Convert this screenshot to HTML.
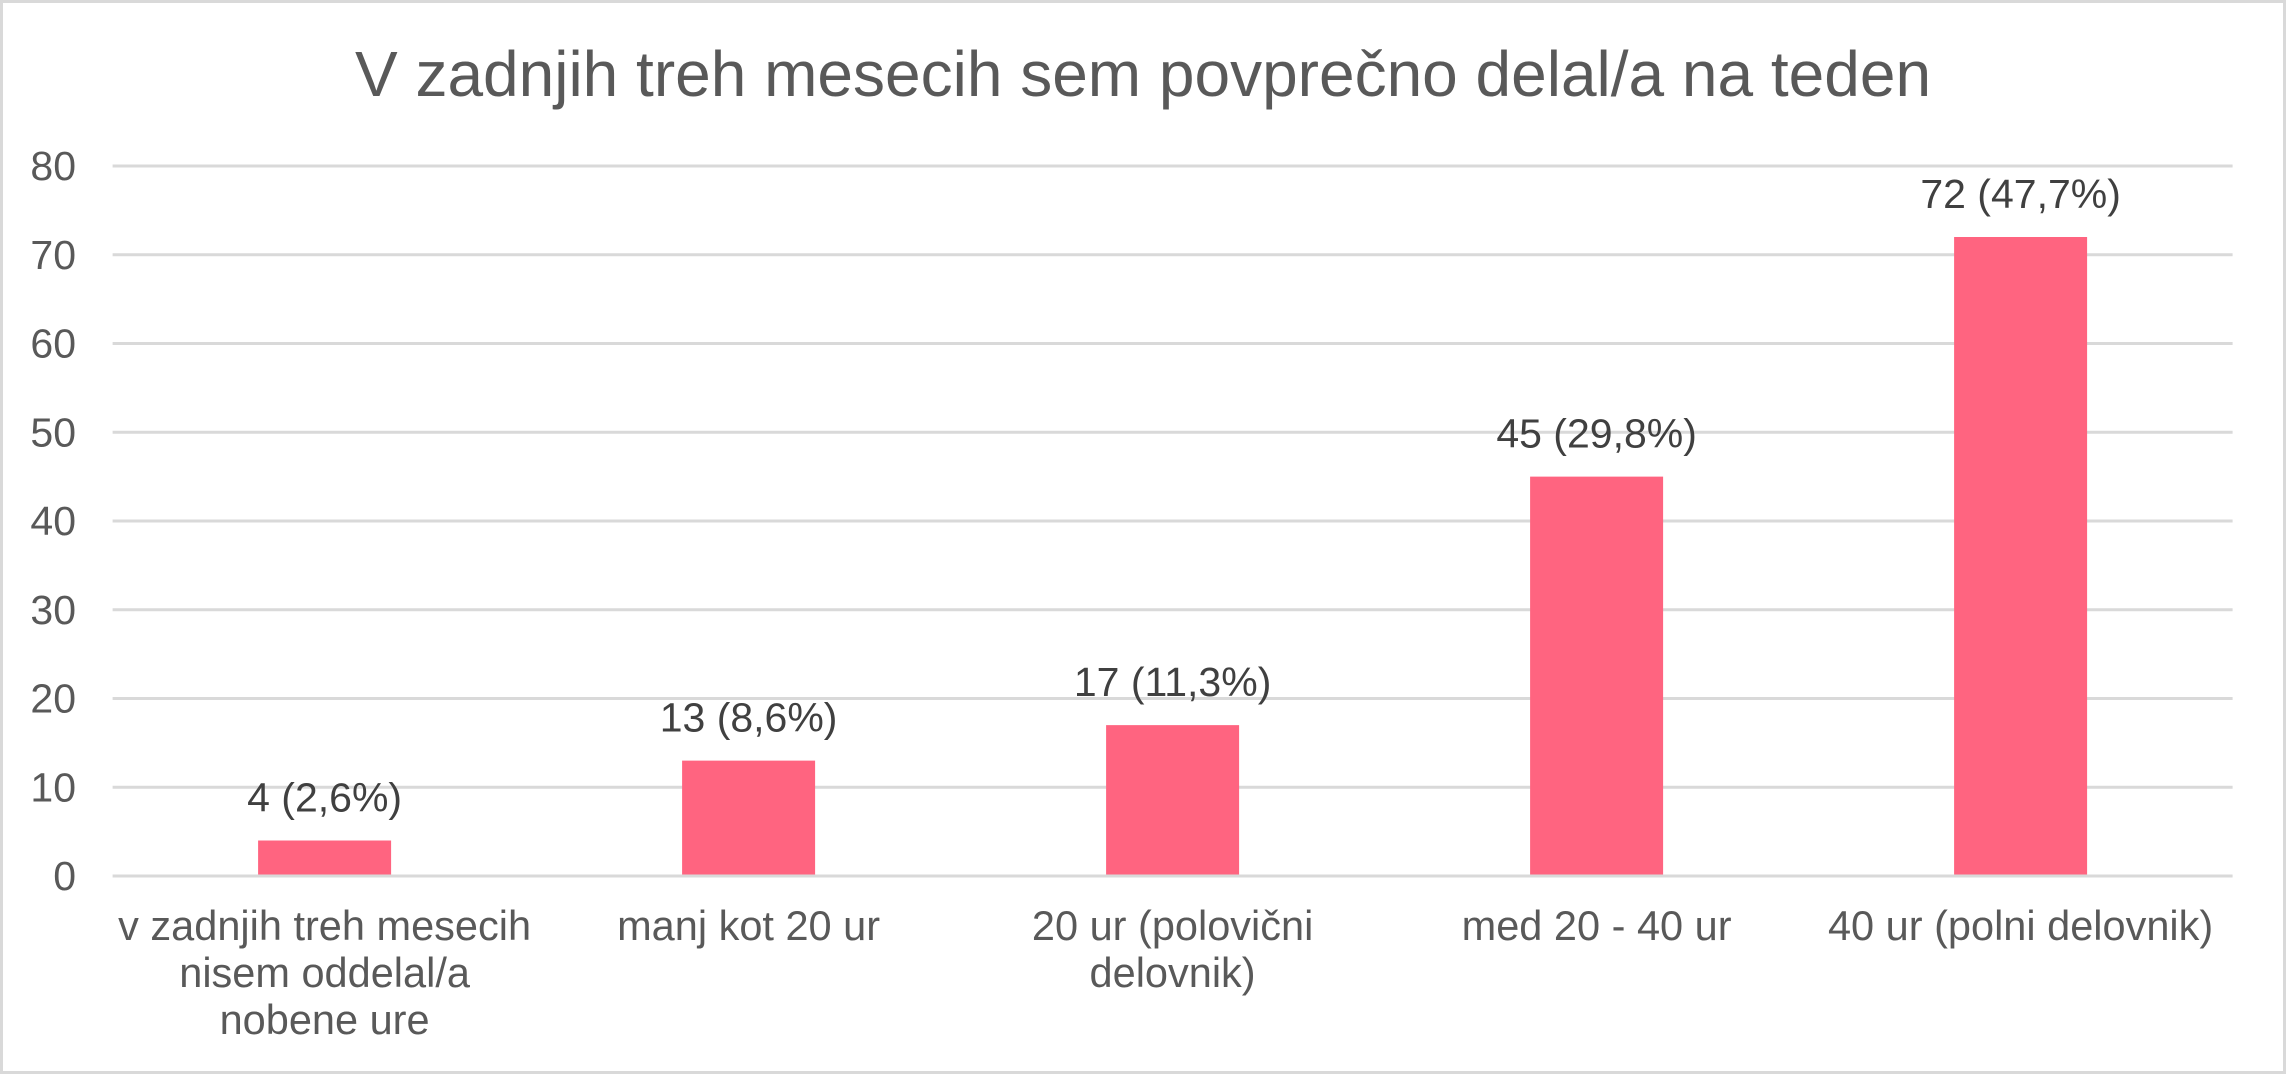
<!DOCTYPE html>
<html><head><meta charset="utf-8"><style>
html,body{margin:0;padding:0;background:#fff;}
svg{display:block;font-family:"Liberation Sans",Arial,sans-serif;}
</style></head><body>
<svg id="chart" width="2286" height="1074" viewBox="0 0 2286 1074">
<rect x="1.5" y="1.5" width="2283" height="1071" fill="#fff" stroke="#d9d9d9" stroke-width="3"/>
<text x="1143" y="96" text-anchor="middle" font-size="64" fill="#595959">V zadnjih treh mesecih sem povprečno delal/a na teden</text>
<g id="grid"></g><g id="bars"></g><g id="labels"></g>
</svg>
<script>
const categories=[["v zadnjih treh mesecih","nisem oddelal/a","nobene ure"],["manj kot 20 ur"],["20 ur (polovični","delovnik)"],["med 20 - 40 ur"],["40 ur (polni delovnik)"]];
const values=[4,13,17,45,72];
const valueLabels=["4 (2,6%)","13 (8,6%)","17 (11,3%)","45 (29,8%)","72 (47,7%)"];
const yTicks=[0,10,20,30,40,50,60,70,80];
const NS="http://www.w3.org/2000/svg";
const L=112.6,R=2232.6,Y0=876,Y80=166,yMax=80;
const y=v=>Y0-(Y0-Y80)*v/yMax;
const band=(R-L)/categories.length;
const xc=i=>L+band*(i+0.5);
const bw=133;
function mk(t,a,p){const e=document.createElementNS(NS,t);for(const k in a)e.setAttribute(k,a[k]);p.appendChild(e);return e;}
const g=document.getElementById('grid'),b=document.getElementById('bars'),lb=document.getElementById('labels');
yTicks.forEach(t=>{
 const ln=mk('line',{x1:L,x2:R,y1:y(t),y2:y(t),stroke:'#d9d9d9','stroke-width':3},g);
 
 
 const tx=mk('text',{x:76,y:y(t)+14,'text-anchor':'end','font-size':41,fill:'#595959'},g);
 tx.textContent=t;
 
 
});
values.forEach((v,i)=>{
 const r=mk('rect',{x:xc(i)-bw/2,y:y(v),width:bw,height:Y0-y(v)-1.5,fill:'#ff6480'},b);
 
 
 const t=mk('text',{x:xc(i),y:y(v)-29,'text-anchor':'middle','font-size':41,fill:'#404040'},lb);
 t.textContent=valueLabels[i];
 
 
 categories[i].forEach((s,j)=>{
  const c=mk('text',{x:xc(i),y:940+j*47,'text-anchor':'middle','font-size':41.5,fill:'#595959'},lb);
  c.textContent=s;
  
  
 });
});
</script>
</body></html>
